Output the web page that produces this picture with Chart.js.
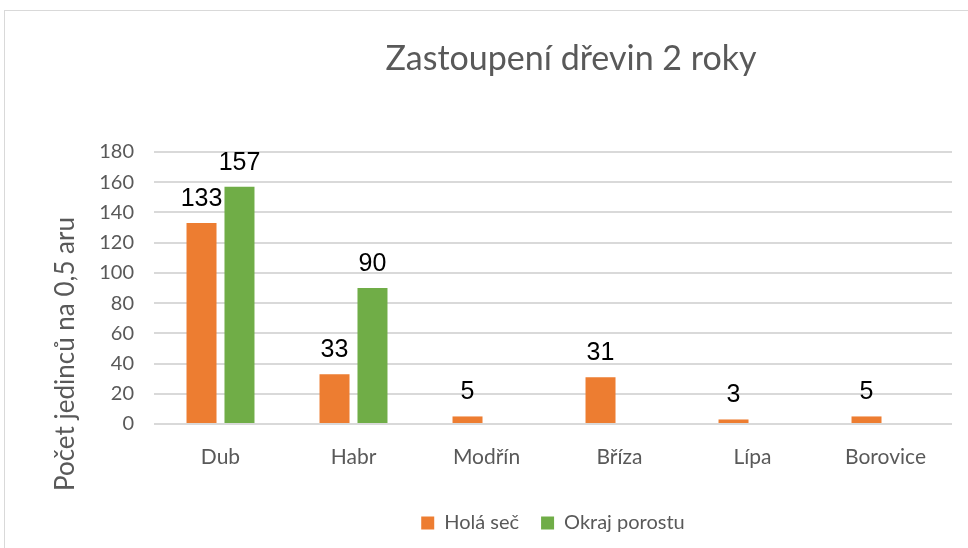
<!DOCTYPE html>
<html>
<head>
<meta charset="utf-8">
<script src="https://cdn.jsdelivr.net/npm/chart.js@4.4.1/dist/chart.umd.min.js"></script>
<style>
  html, body { margin: 0; padding: 0; background: #fff; overflow: hidden; }
  #wrap { position: relative; width: 968px; height: 548px; overflow: hidden; }
  #frame { position: absolute; left: 4px; top: 10px; width: 2000px; height: 2000px; border: 1px solid #d9d9d9; }
  #title { position: absolute; left: 0; top: 36px; width: 1142px; text-align: center;
           font-family: Lato, sans-serif; font-size: 34px; color: #595959; }
  canvas { position: absolute; left: 0; top: 0; }
</style>
</head>
<body>
<div id="wrap">
  <div id="frame"></div>
  <canvas id="chart" width="968" height="548"></canvas>
  <div id="title">Zastoupení dřevin 2 roky</div>
</div>
<script>
// data
const categories = ['Dub', 'Habr', 'Modřín', 'Bříza', 'Lípa', 'Borovice'];
const holaSec = [133, 33, 5, 31, 3, 5];
const okrajPorostu = [157, 90, null, null, null, null];
const seriesNames = ['Holá seč', 'Okraj porostu'];
const yAxisTitle = 'Počet jedinců na 0,5 aru';
const yMin = 0, yMax = 180, yStep = 20;

const grey = '#595959';

// value labels above the bars
const valueLabels = {
    id: 'valueLabels',
    afterDatasetsDraw(chart) {
        const ctx = chart.ctx;
        ctx.save();
        ctx.font = '25px "Liberation Sans", Arial, sans-serif';
        ctx.fillStyle = '#000';
        ctx.textAlign = 'center';
        ctx.textBaseline = 'alphabetic';
        chart.data.datasets.forEach((ds, i) => {
            chart.getDatasetMeta(i).data.forEach((bar, j) => {
                const v = ds.data[j];
                if (v == null) return;
                ctx.fillText(String(v), bar.x, bar.y - 17);
            });
        });
        ctx.restore();
    }
};

// y axis title sits lower than the plot centre in the original
const yTitle = {
    id: 'yTitle',
    afterDraw(chart) {
        const ctx = chart.ctx;
        ctx.save();
        ctx.translate(66, 354);
        ctx.rotate(-Math.PI / 2);
        ctx.font = '26px Lato, sans-serif';
        ctx.fillStyle = grey;
        ctx.textAlign = 'center';
        ctx.textBaseline = 'middle';
        ctx.fillText(yAxisTitle, 0, 0);
        ctx.restore();
    }
};

new Chart(document.getElementById('chart').getContext('2d'), {
    type: 'bar',
    data: {
        labels: categories,
        datasets: [
            { label: seriesNames[0], data: holaSec, backgroundColor: '#ED7D31', borderWidth: 0 },
            { label: seriesNames[1], data: okrajPorostu, backgroundColor: '#70AD47', borderWidth: 0 }
        ]
    },
    options: {
        responsive: false,
        animation: false,
        layout: { padding: { left: 0, right: 16, top: 152, bottom: 5 } },
        datasets: { bar: { categoryPercentage: 0.571, barPercentage: 0.79 } },
        plugins: {
            title: { display: false },
            tooltip: { enabled: false },
            legend: {
                position: 'bottom',
                fullSize: false,
                labels: {
                    boxWidth: 13, boxHeight: 13, padding: 22,
                    color: grey,
                    font: { family: 'Lato', size: 20 }
                }
            }
        },
        scales: {
            x: {
                grid: { display: false },
                border: { display: false },
                ticks: { color: grey, font: { family: 'Lato', size: 21 }, padding: 13 },
                afterFit(scale) { scale.height = 67; }
            },
            y: {
                min: yMin, max: yMax,
                ticks: { stepSize: yStep, color: grey, font: { family: 'Lato', size: 20 }, padding: 20 },
                grid: { color: '#d9d9d9', lineWidth: 2, drawTicks: false },
                border: { display: false },
                afterFit(scale) { scale.width = 154; }
            }
        }
    },
    plugins: [valueLabels, yTitle]
});
</script>
</body>
</html>
